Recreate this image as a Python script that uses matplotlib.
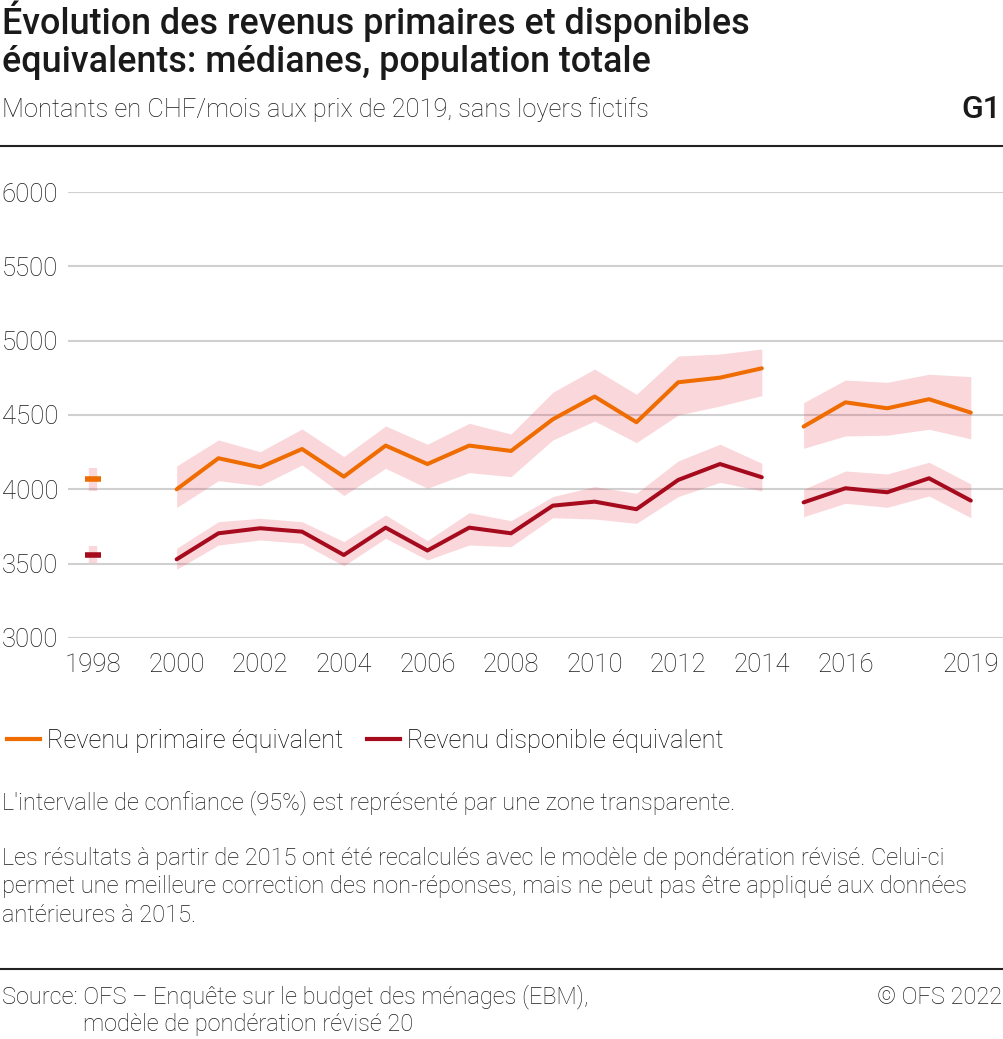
import numpy as np
import matplotlib
matplotlib.use('Agg')
import matplotlib.pyplot as plt

plt.rcParams['font.family'] = ['Roboto', 'DejaVu Sans']

# data (CHF/month, 2019 prices)
years_a = [2000, 2001, 2002, 2003, 2004, 2005, 2006, 2007, 2008, 2009, 2010, 2011, 2012, 2013, 2014]
years_b = [2015, 2016, 2017, 2018, 2019]

prim_1998 = 4071
prim_1998_ci = (3990, 4140)
disp_1998 = 3558
disp_1998_ci = (3504, 3619)

prim_a = [4000, 4209, 4148, 4271, 4085, 4294, 4170, 4294, 4258, 4471, 4624, 4451, 4720, 4751, 4814]
prim_a_lo = [3877, 4058, 4024, 4164, 3958, 4141, 4007, 4112, 4085, 4332, 4459, 4314, 4500, 4560, 4630]
prim_a_hi = [4157, 4332, 4253, 4406, 4220, 4426, 4303, 4444, 4372, 4653, 4809, 4639, 4897, 4910, 4944]
prim_b = [4422, 4585, 4545, 4606, 4516]
prim_b_lo = [4276, 4359, 4364, 4404, 4339]
prim_b_hi = [4583, 4735, 4720, 4774, 4758]

disp_a = [3529, 3704, 3738, 3715, 3558, 3742, 3588, 3742, 3704, 3890, 3917, 3866, 4063, 4170, 4081]
disp_a_lo = [3462, 3625, 3659, 3637, 3486, 3670, 3525, 3625, 3614, 3809, 3800, 3771, 3951, 4047, 3989]
disp_a_hi = [3603, 3782, 3805, 3782, 3648, 3827, 3655, 3843, 3789, 3951, 4018, 3973, 4191, 4303, 4175]
disp_b = [3912, 4007, 3980, 4074, 3924]
disp_b_lo = [3816, 3906, 3879, 3955, 3809]
disp_b_hi = [4000, 4123, 4103, 4182, 4036]

xticks = [1998, 2000, 2002, 2004, 2006, 2008, 2010, 2012, 2014, 2016, 2019]
yticks = [3000, 3500, 4000, 4500, 5000, 5500, 6000]

orange = '#EE6C00'
red = '#A50A1D'
band = '#E8384F'
txt = '#1a1a1a'

fig = plt.figure(figsize=(10.04, 10.39), dpi=100)
ax = fig.add_axes([0.0677, 0.386, 0.9313, 0.4292])

# confidence bands
for x, lo, hi in [(years_a, prim_a_lo, prim_a_hi), (years_b, prim_b_lo, prim_b_hi),
                  (years_a, disp_a_lo, disp_a_hi), (years_b, disp_b_lo, disp_b_hi)]:
    ax.fill_between(x, lo, hi, color=band, alpha=0.2, lw=0, zorder=2)
ax.vlines([1998], [prim_1998_ci[0]], [prim_1998_ci[1]], color=band, alpha=0.2, lw=6, zorder=2)
ax.vlines([1998], [disp_1998_ci[0]], [disp_1998_ci[1]], color=band, alpha=0.2, lw=6, zorder=2)

# lines
ax.plot(years_a, prim_a, color=orange, lw=2.9, solid_capstyle='round', zorder=3)
ax.plot(years_b, prim_b, color=orange, lw=2.9, solid_capstyle='round', zorder=3)
ax.plot(years_a, disp_a, color=red, lw=2.9, solid_capstyle='round', zorder=3)
ax.plot(years_b, disp_b, color=red, lw=2.9, solid_capstyle='round', zorder=3)
ax.plot([1998], [prim_1998], marker='_', ms=11, mew=4, color=orange, zorder=3)
ax.plot([1998], [disp_1998], marker='_', ms=11, mew=4, color=red, zorder=3)

ax.set_xlim(1997.4, 2019.77)
ax.set_ylim(3000, 6000)
ax.set_xticks(xticks)
ax.set_yticks(yticks)
ax.tick_params(length=0, labelsize=18.5, colors=txt)
for lab in ax.get_xticklabels() + ax.get_yticklabels():
    lab.set_fontweight('light')
ax.tick_params(axis='y', pad=7)
ax.tick_params(axis='x', pad=11)
ax.yaxis.grid(True, color='#d0d0d0', lw=1.5, zorder=1)
ax.set_axisbelow(True)
for s in ax.spines.values():
    s.set_visible(False)

# legend
h1, = ax.plot([], [], color=orange, lw=3)
h2, = ax.plot([], [], color=red, lw=3)
leg = fig.legend([h1, h2], ['Revenu primaire équivalent', 'Revenu disponible équivalent'],
                 loc='center left', bbox_to_anchor=(-0.016, 1 - 741 / 1039), ncol=2, frameon=False,
                 prop={'size': 18.3, 'weight': 'light'}, handlelength=1.3, handletextpad=0.3,
                 columnspacing=0.9)

# titles
fig.text(0.002, 1 - 21 / 1039, 'Évolution des revenus primaires et disponibles', fontsize=25.8,
         fontweight='medium', va='center', ha='left', color=txt)
fig.text(0.002, 1 - 62 / 1039, 'équivalents: médianes, population totale', fontsize=25.8,
         fontweight='medium', va='center', ha='left', color=txt)
fig.text(0.002, 1 - 110 / 1039, 'Montants en CHF/mois aux prix de 2019, sans loyers fictifs',
         fontsize=18.4, fontweight='light', va='center', ha='left', color=txt)
fig.text(0.997, 1 - 109 / 1039, 'G1', fontsize=23, fontweight='medium', va='center', ha='right',
         color=txt)

# rules
fig.add_artist(plt.Line2D([0, 1], [1 - 146 / 1039] * 2, color='#222222', lw=1.5))
fig.add_artist(plt.Line2D([0, 1], [1 - 969 / 1039] * 2, color='#222222', lw=1.5))

# notes
note_kw = dict(fontsize=17, fontweight='light', va='center', ha='left', color=txt)
fig.text(0.002, 1 - 803 / 1039,
         "L'intervalle de confiance (95%) est représenté par une zone transparente.", **note_kw)
fig.text(0.002, 1 - 859 / 1039,
         "Les résultats à partir de 2015 ont été recalculés avec le modèle de pondération révisé. Celui-ci",
         **note_kw)
fig.text(0.002, 1 - 887 / 1039,
         "permet une meilleure correction des non-réponses, mais ne peut pas être appliqué aux données",
         **note_kw)
fig.text(0.002, 1 - 915 / 1039, "antérieures à 2015.", **note_kw)

# source
fig.text(0.002, 1 - 997 / 1039, "Source: OFS – Enquête sur le budget des ménages (EBM),", **note_kw)
fig.text(83 / 1004, 1 - 1025 / 1039, "modèle de pondération révisé 20", **note_kw)
fig.text(0.998, 1 - 997 / 1039, "© OFS 2022", fontsize=17, fontweight='light',
         va='center', ha='right', color=txt)

fig.savefig('out.png', dpi=100)
